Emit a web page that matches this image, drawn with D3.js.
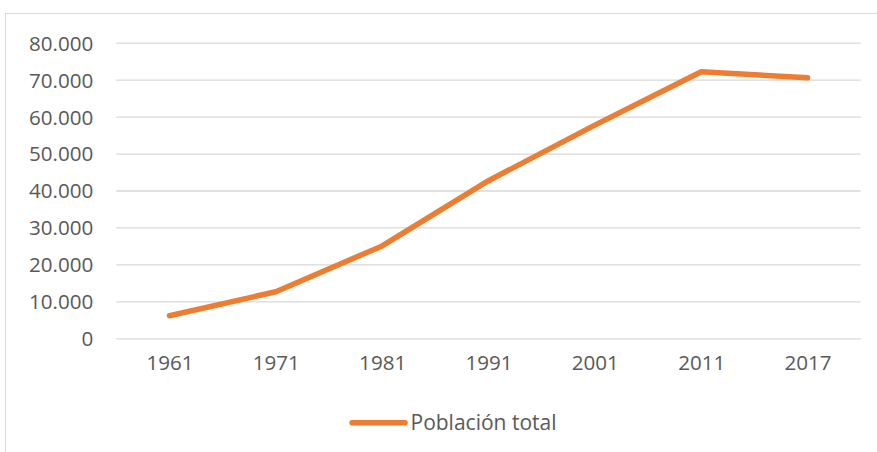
<!DOCTYPE html>
<html><head><meta charset="utf-8">
<script src="https://cdn.jsdelivr.net/npm/d3@7"></script>
<style>body{margin:0;background:#fff}text{font-family:"Open Sans",sans-serif}</style>
</head><body><svg id="c" width="877" height="452"></svg>
<script>
const years = ["1961","1971","1981","1991","2001","2011","2017"];
const poblacion = [6100, 12600, 25000, 42650, 57700, 72150, 70500];
const yTicks = [0,10000,20000,30000,40000,50000,60000,70000,80000];
const seriesName = "Población total";

const svg = d3.select("#c");
const W = 877, H = 452;
// chart area border
svg.append("rect").attr("x",5.5).attr("y",13.5).attr("width",W+10).attr("height",H)
  .attr("fill","#fff").attr("stroke","#d9d9d9").attr("stroke-width",1);

const x = d3.scalePoint().domain(years).range([116.3,860.7]).padding(0.5);
const y = d3.scaleLinear().domain([0,80000]).range([338.3,42.7]);
const fmt = v => d3.format(",")(v).replace(/,/g,".");

const gy = svg.append("g").attr("transform","translate(116.3,0)")
  .call(d3.axisLeft(y).tickValues(yTicks).tickSize(-(860.7-116.3)).tickFormat(fmt).tickPadding(23));
gy.select(".domain").remove();
gy.selectAll(".tick line").attr("stroke","#d9d9d9").attr("stroke-width",1.3);
gy.selectAll(".tick text").attr("fill","#595959").style("font-size","20.6px").attr("dy","0.36em");

const gx = svg.append("g").attr("transform","translate(0,338.3)")
  .call(d3.axisBottom(x).tickSize(0).tickPadding(24));
gx.select(".domain").remove();
gx.selectAll(".tick text").attr("fill","#595959").style("font-size","20.6px").attr("dy","0.36em");

const line = d3.line().x((d,i)=>x(years[i])).y(d=>y(d));
svg.append("path").datum(poblacion).attr("d",line).attr("fill","none")
  .attr("stroke","#ED7D31").attr("stroke-width",5.5).attr("stroke-linecap","round").attr("stroke-linejoin","round");

// legend
svg.append("line").attr("x1",352).attr("x2",405).attr("y1",422.7).attr("y2",422.7)
  .attr("stroke","#ED7D31").attr("stroke-width",5.5).attr("stroke-linecap","round");
svg.append("text").attr("x",410.5).attr("y",429.5).attr("fill","#595959").style("font-size","21px").text(seriesName);
</script></body></html>
